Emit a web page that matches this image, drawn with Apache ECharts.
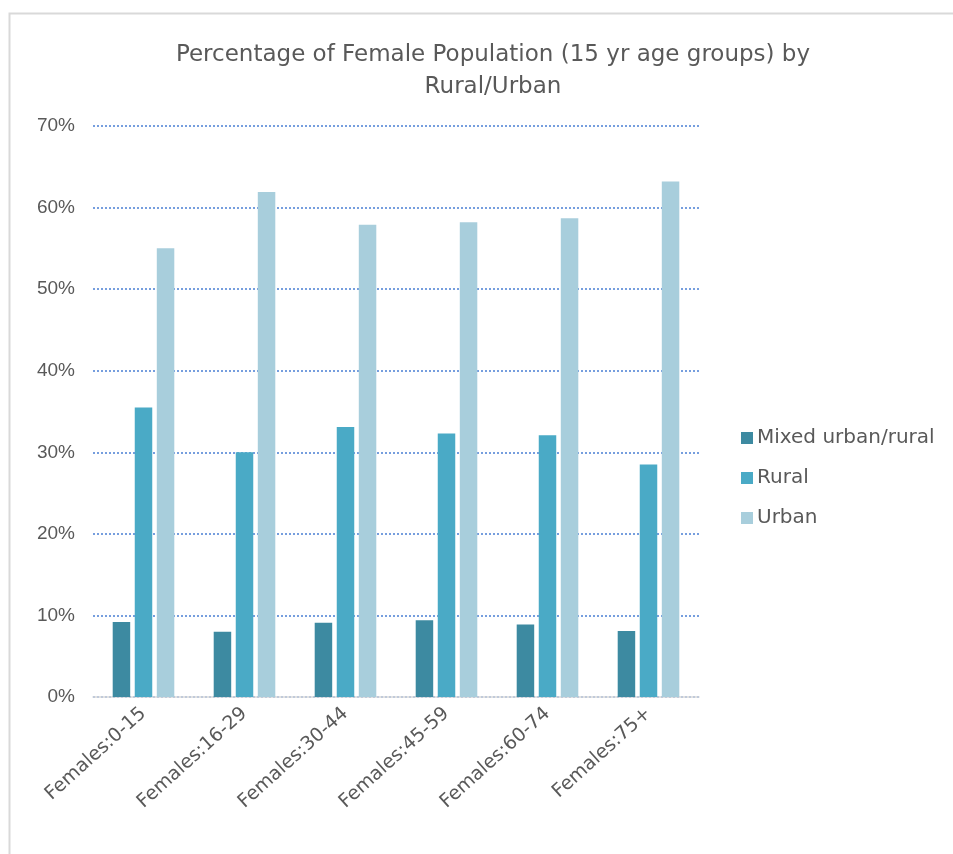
<!DOCTYPE html>
<html>
<head>
<meta charset="utf-8">
<script src="https://cdn.jsdelivr.net/npm/echarts@6/dist/echarts.min.js"></script>
<style>
  html, body { margin: 0; padding: 0; background: #ffffff; }
  #chart { width: 953px; height: 854px; }
</style>
</head>
<body>
<div id="chart"></div>
<script>
// Female population share (%) by settlement type, per 15-year age group
const categories = ['Females:0-15', 'Females:16-29', 'Females:30-44', 'Females:45-59', 'Females:60-74', 'Females:75+'];
const seriesNames = ['Mixed urban/rural', 'Rural', 'Urban'];
const mixedValues = [9.2, 8.0, 9.1, 9.4, 8.9, 8.1];
const ruralValues = [35.5, 30.0, 33.1, 32.3, 32.1, 28.5];
const urbanValues = [55.0, 61.9, 57.9, 58.2, 58.7, 63.2];
const yTicks = [0, 10, 20, 30, 40, 50, 60, 70];

const colors = ['#3d8aa1', '#4aaac6', '#a8cedc'];
const textColor = '#595959';
const wideFont = '"DejaVu Sans", Verdana, sans-serif';
const axisFont = '"Liberation Sans", Arial, sans-serif';

const chart = echarts.init(document.getElementById('chart'), null, { renderer: 'canvas' });

const valueSets = [mixedValues, ruralValues, urbanValues];

chart.setOption({
  backgroundColor: '#ffffff',
  animation: false,
  textStyle: { fontFamily: wideFont, color: textColor },
  graphic: [
    {
      type: 'rect',
      shape: { x: 9.5, y: 13.5, width: 960, height: 900 },
      style: { fill: 'none', stroke: '#d9d9d9', lineWidth: 2 },
      silent: true
    }
  ],
  title: {
    text: 'Percentage of Female Population (15 yr age groups) by\nRural/Urban',
    left: 488,
    textAlign: 'center',
    top: 34,
    textStyle: {
      fontFamily: wideFont,
      fontSize: 23,
      fontWeight: 'normal',
      color: textColor,
      lineHeight: 32
    }
  },
  legend: {
    orient: 'vertical',
    left: 736,
    top: 423,
    itemWidth: 12,
    itemHeight: 12,
    itemGap: 20,
    icon: 'rect',
    data: seriesNames,
    textStyle: { fontFamily: wideFont, fontSize: 20, color: textColor, padding: [0, 0, 0, -1] }
  },
  grid: {
    left: 93,
    right: 254,
    top: 126,
    bottom: 157,
    containLabel: false
  },
  xAxis: {
    type: 'category',
    data: categories,
    axisLine: { show: true, lineStyle: { color: '#d9d9d9', width: 1.5 } },
    axisTick: { show: false },
    axisLabel: {
      rotate: 42,
      interval: 0,
      margin: 14,
      fontSize: 19,
      color: textColor,
      fontFamily: wideFont
    }
  },
  yAxis: {
    type: 'value',
    min: yTicks[0],
    max: yTicks[yTicks.length - 1],
    interval: 10,
    axisLine: { show: false },
    axisTick: { show: false },
    axisLabel: {
      margin: 18,
      fontSize: 19,
      color: textColor,
      fontFamily: axisFont,
      formatter: function (v) { return v + '%'; }
    },
    splitLine: {
      show: true,
      lineStyle: { color: '#4a7fd4', width: 1.5, type: [2, 2] }
    }
  },
  series: seriesNames.map(function (name, i) {
    return {
      name: name,
      type: 'bar',
      data: valueSets[i],
      barWidth: 17.5,
      barGap: '26%',
      itemStyle: { color: colors[i] },
      z: 3
    };
  })
});
</script>
</body>
</html>
